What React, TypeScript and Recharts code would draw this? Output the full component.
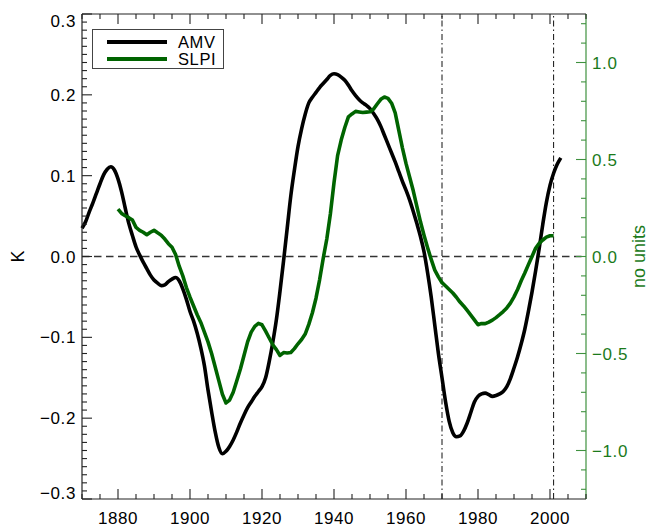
import React from 'react';
import { LineChart, Line, XAxis, YAxis, ReferenceLine, Legend } from 'recharts';

const FONT = '"Liberation Sans", Arial, Helvetica, sans-serif';
const INK = '#222222';
const GREEN = '#006400';
const GREEN_AXIS = '#3f913f';
const GREEN_TEXT = '#1b7a1b';

// AMV index (K), one value per year from 1870
const AMV_START = 1870;
const amv = [
  0.035, 0.043, 0.055, 0.066, 0.078, 0.09, 0.101, 0.108, 0.111, 0.107,
  0.096, 0.08, 0.06, 0.041, 0.026, 0.012, 0.002, -0.007, -0.015, -0.023,
  -0.029, -0.033, -0.036, -0.035, -0.031, -0.028, -0.026, -0.03, -0.04, -0.053,
  -0.068, -0.08, -0.095, -0.113, -0.135, -0.165, -0.192, -0.217, -0.236, -0.244,
  -0.241, -0.235, -0.227, -0.217, -0.206, -0.196, -0.187, -0.18, -0.173, -0.167,
  -0.161, -0.15, -0.13, -0.106, -0.078, -0.043, -0.005, 0.035, 0.075, 0.107,
  0.136, 0.158, 0.176, 0.19, 0.197, 0.203, 0.209, 0.214, 0.219, 0.224,
  0.226, 0.225, 0.222, 0.218, 0.212, 0.205, 0.199, 0.194, 0.19, 0.187,
  0.183, 0.177, 0.17, 0.161, 0.15, 0.139, 0.128, 0.117, 0.105, 0.093,
  0.082, 0.07, 0.056, 0.041, 0.025, 0.006, -0.02, -0.05, -0.085, -0.12,
  -0.15, -0.18, -0.204, -0.218, -0.223, -0.222, -0.216, -0.206, -0.193, -0.18,
  -0.173, -0.17, -0.169, -0.171, -0.173, -0.172, -0.17, -0.167, -0.161, -0.151,
  -0.138, -0.124, -0.108, -0.09, -0.068, -0.044, -0.018, 0.01, 0.04, 0.067,
  0.088, 0.103, 0.114, 0.122,
];

// SLP index (no units), one value per year from 1880
const SLPI_START = 1880;
const slpi = [
  0.244, 0.222, 0.21, 0.2, 0.188, 0.15, 0.135, 0.125, 0.112, 0.125,
  0.135, 0.122, 0.11, 0.09, 0.066, 0.048, 0.01, -0.05, -0.1, -0.16,
  -0.21, -0.255, -0.3, -0.34, -0.39, -0.44, -0.5, -0.57, -0.64, -0.71,
  -0.755, -0.74, -0.7, -0.64, -0.58, -0.51, -0.44, -0.39, -0.36, -0.345,
  -0.352, -0.385, -0.42, -0.455, -0.48, -0.51, -0.495, -0.497, -0.495, -0.475,
  -0.45, -0.428, -0.4, -0.35, -0.29, -0.215, -0.12, -0.01, 0.09, 0.22,
  0.38, 0.52, 0.6, 0.665, 0.72, 0.735, 0.748, 0.745, 0.742, 0.744,
  0.746, 0.76, 0.786, 0.81, 0.822, 0.815, 0.79, 0.74, 0.65, 0.56,
  0.48, 0.41, 0.34, 0.26, 0.18, 0.11, 0.045, -0.015, -0.07, -0.105,
  -0.135, -0.152, -0.17, -0.188, -0.21, -0.235, -0.255, -0.278, -0.302, -0.327,
  -0.352, -0.345, -0.346, -0.338, -0.328, -0.315, -0.3, -0.284, -0.265, -0.24,
  -0.208, -0.17, -0.125, -0.085, -0.042, 0.0, 0.042, 0.068, 0.085, 0.1,
  0.107, 0.107,
];

const yearTicks = [1880, 1900, 1920, 1940, 1960, 1980, 2000];
const kTicks = [-0.3, -0.2, -0.1, 0, 0.1, 0.2, 0.3];
const slpiTicks = [-1, -0.5, 0, 0.5, 1];
const periodMarks = [1970, 2001];

const yearDomain: [number, number] = [1870, 2010];
const kDomain: [number, number] = [-0.3, 0.3];
const slpiDomain: [number, number] = [-1.25, 1.25];

const legendItems = [
  { name: 'AMV', color: '#000000' },
  { name: 'SLPI', color: GREEN },
];

const data = amv.map((v, i) => {
  const year = AMV_START + i;
  const j = year - SLPI_START;
  return { year, amv: v, slpi: j >= 0 && j < slpi.length ? slpi[j] : null };
});

// minor tick positions (majors included)
const steps = (lo: number, hi: number, step: number) => {
  const out: number[] = [];
  const n = Math.floor((hi - lo) / step + 1e-9);
  for (let i = 0; i <= n; i++) out.push(+(lo + i * step).toFixed(4));
  return out;
};
const yearMinor = steps(yearDomain[0], yearDomain[1], 5);
const kMinor = steps(kDomain[0], kDomain[1], 0.01);
const slpiMinor = steps(-1.2, 1.2, 0.1);

const isMajor = (v: number, list: number[]) => list.some((t) => Math.abs(t - v) < 1e-6);
const fmt = (v: number) => (Math.abs(v) < 1e-9 ? '0.0' : v.toFixed(1).replace('-', '\u2212'));

const MAJOR = 10;
const MINOR = 5;

const labelStyle = { fontFamily: FONT, fontSize: 17, letterSpacing: 0.6 };

function KTick({ x, y, payload }: any) {
  const v = payload.value;
  const major = isMajor(v, kTicks);
  let dy = 6;
  if (Math.abs(v - kDomain[1]) < 1e-6) dy += 6.5;
  if (Math.abs(v - kDomain[0]) < 1e-6) dy -= 6;
  return (
    <g>
      <line x1={x} x2={x + (major ? MAJOR : MINOR)} y1={y} y2={y} stroke={INK} strokeWidth={1.1} />
      {major && (
        <text x={x - 6} y={y + dy} textAnchor="end" fill="#000" style={labelStyle}>
          {fmt(v)}
        </text>
      )}
    </g>
  );
}

function SlpTick({ x, y, payload }: any) {
  const v = payload.value;
  const major = isMajor(v, slpiTicks);
  return (
    <g>
      <line x1={x} x2={x - (major ? MAJOR : MINOR)} y1={y} y2={y} stroke={GREEN_AXIS} strokeWidth={1.1} />
      {major && (
        <text x={x + 6} y={y + 6} textAnchor="start" fill={GREEN_TEXT} style={labelStyle}>
          {fmt(v)}
        </text>
      )}
    </g>
  );
}

function YearTick({ x, y, payload }: any) {
  const v = payload.value;
  const major = isMajor(v, yearTicks);
  return (
    <g>
      <line x1={x} x2={x} y1={y} y2={y - (major ? MAJOR : MINOR)} stroke={INK} strokeWidth={1.1} />
      {major && (
        <text x={x} y={y + 25} textAnchor="middle" fill="#000" style={labelStyle}>
          {v}
        </text>
      )}
    </g>
  );
}

function TopTick({ x, y, payload }: any) {
  const major = isMajor(payload.value, yearTicks);
  return <line x1={x} x2={x} y1={y} y2={y + (major ? MAJOR : MINOR)} stroke={INK} strokeWidth={1.1} />;
}

const axisTitle = (text: string, dx: number, color: string) => (p: any) => {
  const vb = p.viewBox;
  const cx = vb.x + dx;
  const cy = vb.y + vb.height / 2;
  return (
    <text
      x={cx}
      y={cy}
      transform={`rotate(-90 ${cx} ${cy})`}
      textAnchor="middle"
      dominantBaseline="central"
      fill={color}
      style={{ fontFamily: FONT, fontSize: 18 }}
    >
      {text}
    </text>
  );
};

function LegendBox() {
  return (
    <div
      style={{
        position: 'relative',
        width: 132,
        height: 40,
        boxSizing: 'border-box',
        border: '1px solid #444',
        background: '#fff',
        fontFamily: FONT,
        fontSize: 16.5,
      }}
    >
      {legendItems.map((it, i) => (
        <div
          key={it.name}
          style={{ position: 'absolute', left: 14, top: 4 + i * 16.6, height: 16, display: 'flex', alignItems: 'center' }}
        >
          <span style={{ display: 'inline-block', width: 60, height: 4, background: it.color }} />
          <span
            style={{
              display: 'inline-block',
              height: 16,
              overflow: 'visible',
              marginLeft: 11,
              lineHeight: '16px',
              letterSpacing: 0.6,
            }}
          >
            {it.name}
          </span>
        </div>
      ))}
    </div>
  );
}

export default function App() {
  return (
    <div style={{ position: 'absolute', left: 0, top: 0, background: '#fff' }}>
      <LineChart width={650} height={529} data={data} margin={{ top: 0, right: 0, bottom: 0, left: 0 }}>
        <XAxis
          xAxisId="t"
          orientation="top"
          type="number"
          dataKey="year"
          domain={yearDomain}
          ticks={yearMinor}
          interval={0}
          height={14}
          tickSize={0}
          tickMargin={0}
          tick={<TopTick />}
          axisLine={{ stroke: INK, strokeWidth: 1.2 }}
        />
        <XAxis
          xAxisId="b"
          type="number"
          dataKey="year"
          domain={yearDomain}
          ticks={yearMinor}
          interval={0}
          height={30}
          tickSize={0}
          tickMargin={0}
          tick={<YearTick />}
          axisLine={{ stroke: INK, strokeWidth: 1.2 }}
        />
        <YAxis
          yAxisId="k"
          orientation="left"
          type="number"
          domain={kDomain}
          ticks={kMinor}
          interval={0}
          width={82}
          tickSize={0}
          tickMargin={0}
          tick={<KTick />}
          axisLine={{ stroke: INK, strokeWidth: 1.2 }}
          label={{ value: 'K', content: axisTitle('K', 18, '#000') }}
        />
        <YAxis
          yAxisId="s"
          orientation="right"
          type="number"
          domain={slpiDomain}
          ticks={slpiMinor}
          interval={0}
          width={64}
          tickSize={0}
          tickMargin={0}
          tick={<SlpTick />}
          axisLine={{ stroke: GREEN_AXIS, strokeWidth: 1.2 }}
          label={{ value: 'no units', content: axisTitle('no units', 53, GREEN_TEXT) }}
        />
        <ReferenceLine xAxisId="b" yAxisId="k" y={0} stroke="#333" strokeWidth={1.3} strokeDasharray="7.5 4.5" />
        {periodMarks.map((yr) => (
          <ReferenceLine
            key={yr}
            xAxisId="b"
            yAxisId="k"
            x={yr}
            stroke="#111"
            strokeWidth={1}
            strokeDasharray="6 3 1.5 3"
          />
        ))}
        <Line
          xAxisId="b"
          yAxisId="k"
          dataKey="amv"
          name="AMV"
          type="monotone"
          stroke="#000"
          strokeWidth={3.6}
          strokeLinejoin="round"
          dot={false}
          isAnimationActive={false}
        />
        <Line
          xAxisId="b"
          yAxisId="s"
          dataKey="slpi"
          name="SLPI"
          type="linear"
          stroke={GREEN}
          strokeWidth={3.6}
          strokeLinejoin="round"
          dot={false}
          isAnimationActive={false}
        />
        <Legend
          layout="vertical"
          align="center"
          verticalAlign="middle"
          wrapperStyle={{ left: 92, top: 29, width: 132, height: 40 }}
          content={() => <LegendBox />}
        />
      </LineChart>
    </div>
  );
}
